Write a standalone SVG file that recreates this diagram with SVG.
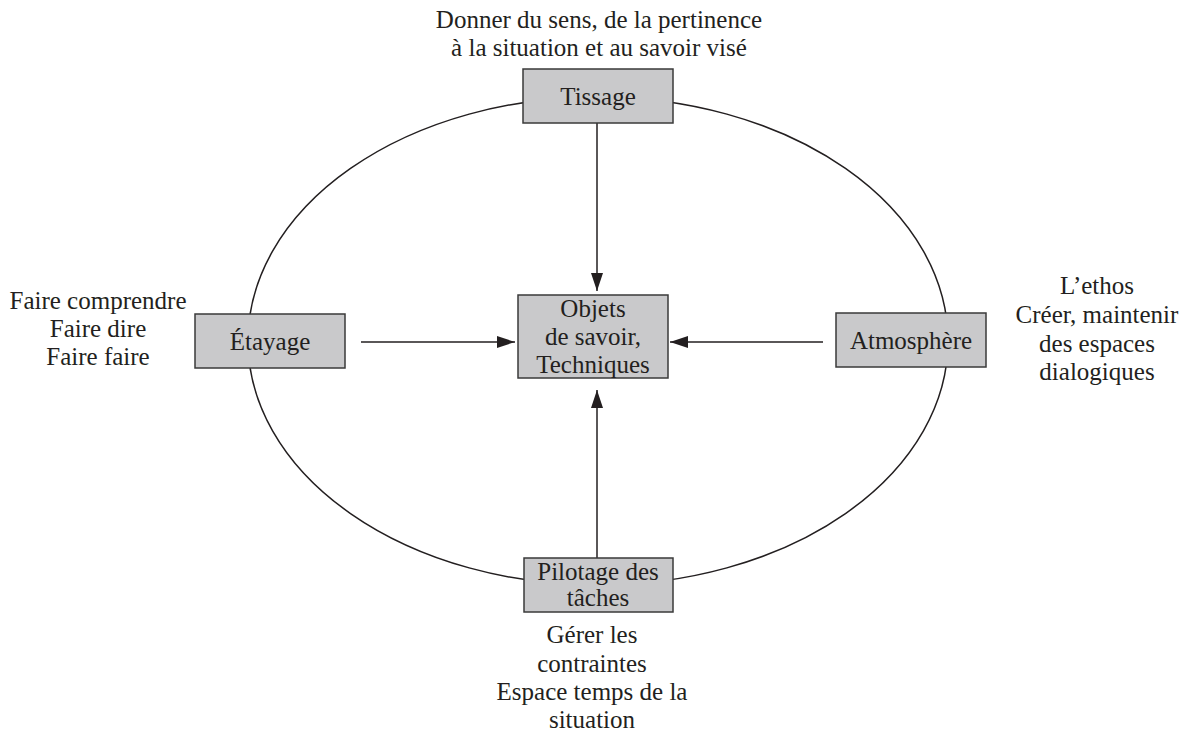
<svg xmlns="http://www.w3.org/2000/svg" width="1200" height="731" viewBox="0 0 1200 731">
<style>
.box{fill:#c9c9cb;stroke:#3a3a3a;stroke-width:1.5}
text{font-family:"Liberation Serif","Times New Roman",serif;font-size:25px;fill:#231f20;text-anchor:middle}
.c{stroke:#231f20;stroke-width:1.5;fill:none}
</style>
<defs>
<marker id="ah" viewBox="0 0 18 12" refX="18" refY="6" markerWidth="18" markerHeight="12" markerUnits="userSpaceOnUse" orient="auto">
<path d="M0,0 L18,6 L0,12 Z" fill="#231f20"/>
</marker>
</defs>
<rect width="1200" height="731" fill="#fff"/>
<ellipse cx="598" cy="341" rx="350" ry="244" class="c"/>
<g id="connectors">
<line x1="597" y1="123" x2="597" y2="291" class="c" marker-end="url(#ah)"/>
<line x1="361" y1="342" x2="515" y2="342" class="c" marker-end="url(#ah)"/>
<line x1="823" y1="342" x2="670" y2="342" class="c" marker-end="url(#ah)"/>
<line x1="597" y1="558" x2="597" y2="390" class="c" marker-end="url(#ah)"/>
</g>
<g id="tissage">
<rect x="523" y="69" width="150" height="54" class="box"/>
<text x="598" y="105">Tissage</text>
</g>
<g id="objets">
<rect x="518" y="295" width="150" height="83" class="box"/>
<text x="593" y="317">Objets</text>
<text x="593" y="345">de savoir,</text>
<text x="593" y="373">Techniques</text>
</g>
<g id="etayage">
<rect x="195" y="314" width="150" height="54" class="box"/>
<text x="270" y="350">Étayage</text>
</g>
<g id="atmosphere">
<rect x="836" y="313" width="150" height="54" class="box"/>
<text x="911" y="349">Atmosphère</text>
</g>
<g id="pilotage">
<rect x="524" y="558" width="149" height="54" class="box"/>
<text x="598" y="580">Pilotage des</text>
<text x="598" y="606">tâches</text>
</g>
<g id="labels">
<text x="599" y="28">Donner du sens, de la pertinence</text>
<text x="599" y="56">à la situation et au savoir visé</text>
<text x="98" y="309">Faire comprendre</text>
<text x="98" y="337">Faire dire</text>
<text x="98" y="365">Faire faire</text>
<text x="1097" y="294">L’ethos</text>
<text x="1097" y="323">Créer, maintenir</text>
<text x="1097" y="352">des espaces</text>
<text x="1097" y="380">dialogiques</text>
<text x="592" y="643">Gérer les</text>
<text x="592" y="672">contraintes</text>
<text x="592" y="700">Espace temps de la</text>
<text x="592" y="728">situation</text>
</g>
</svg>
